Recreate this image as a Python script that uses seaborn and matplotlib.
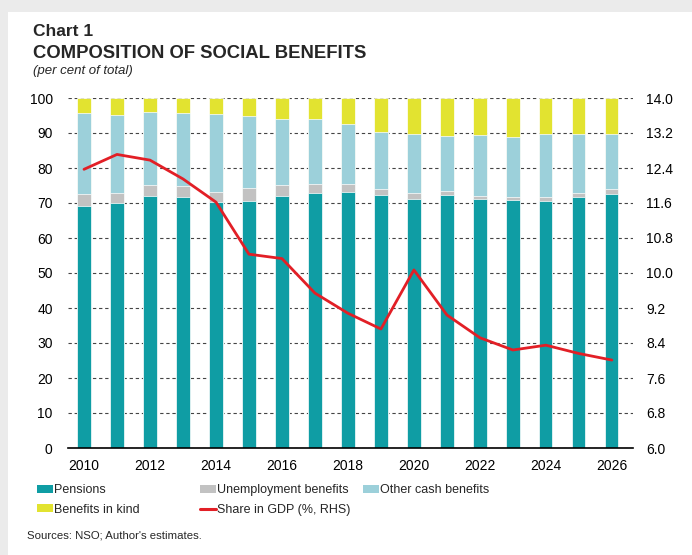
import numpy as np
import pandas as pd
import matplotlib
matplotlib.use("Agg")
import matplotlib.pyplot as plt
import seaborn as sns
from matplotlib.patches import Patch, Rectangle
from matplotlib.lines import Line2D
from matplotlib import font_manager as fm

years = list(range(2010, 2027))
pensions = [69.1, 69.9, 72.0, 71.6, 70.4, 70.7, 72.1, 73.0, 73.2, 72.3, 71.1, 72.4, 71.2, 70.9, 70.5, 71.8, 72.7]
unemployment = [3.4, 3.1, 3.1, 3.3, 2.8, 3.5, 3.0, 2.3, 2.1, 1.6, 1.8, 0.9, 0.8, 0.8, 1.1, 1.2, 1.3]
other_cash = [23.1, 22.2, 20.9, 20.9, 22.2, 20.7, 19.0, 18.6, 17.2, 16.3, 16.8, 15.9, 17.3, 17.3, 18.0, 16.6, 15.6]
in_kind = [4.4, 4.8, 4.0, 4.2, 4.6, 5.1, 5.9, 6.1, 7.5, 9.8, 10.3, 10.8, 10.7, 11.0, 10.4, 10.4, 10.4]
gdp_share = [12.37, 12.71, 12.58, 12.15, 11.62, 10.43, 10.33, 9.54, 9.08, 8.72, 10.07, 9.04, 8.52, 8.24, 8.35, 8.16, 8.01]

left_ticks = list(range(0, 101, 10))
right_ticks = [6.0, 6.8, 7.6, 8.4, 9.2, 10.0, 10.8, 11.6, 12.4, 13.2, 14.0]

labels = ["Pensions", "Unemployment benefits", "Other cash benefits", "Benefits in kind"]
colors = ["#0F9DA4", "#C2C2C2", "#9CD0DA", "#E2E330"]
red = "#E21F26"

sns.set_theme(style="white")
plt.rcParams["font.family"] = ["Liberation Sans", "DejaVu Sans"]

installed = {f.name for f in fm.fontManager.ttflist}
if "Liberation Sans Narrow" in installed:
    narrow = "Liberation Sans Narrow"
    leg_size, src_size = 10.5, 9.5
else:
    narrow = "Liberation Sans"
    leg_size, src_size = 9.0, 8.2

df = pd.DataFrame({"year": [str(y) for y in years],
                   "p": pensions, "u": unemployment, "o": other_cash, "k": in_kind})
df["c1"] = df["p"]
df["c2"] = df["c1"] + df["u"]
df["c3"] = df["c2"] + df["o"]
df["c4"] = df["c3"] + df["k"]

fig = plt.figure(figsize=(6.92, 5.55), dpi=100)
fig.patch.set_facecolor("#EBEBEB")
fig.patches.append(Rectangle((8 / 692, 0), 1, 1 - 12 / 555, transform=fig.transFigure,
                             facecolor="white", edgecolor="none", zorder=-10))

ax = fig.add_axes([68 / 692, 1 - 448 / 555, (633 - 68) / 692, 350 / 555])
ax.set_facecolor("none")

for col, c in zip(["c4", "c3", "c2", "c1"], colors[::-1]):
    sns.barplot(data=df, x="year", y=col, color=c, width=0.4, ax=ax,
                edgecolor="white", linewidth=0.5, saturation=1, zorder=2)

ax.set_ylim(0, 100)
ax.set_yticks(left_ticks)
ax.set_xlim(-0.485, 16.64)
ax.set_xticks(range(0, 17, 2))
ax.set_xticklabels([str(y) for y in years[::2]])
ax.set_xlabel("")
ax.set_ylabel("")
for s in ["top", "right", "left"]:
    ax.spines[s].set_visible(False)
ax.spines["bottom"].set_color("black")
ax.spines["bottom"].set_linewidth(1.2)
ax.spines["bottom"].set_zorder(5)
ax.set_axisbelow(True)
ax.yaxis.grid(True, color="#444444", linestyle=(0, (3, 2.5)), linewidth=0.8)
ax.tick_params(axis="both", length=0, labelsize=10, colors="black")
ax.tick_params(axis="y", pad=11)
ax.tick_params(axis="x", pad=8)

ax2 = ax.twinx()
sns.lineplot(x=np.arange(len(years)), y=gdp_share, ax=ax2, color=red, linewidth=2.0, zorder=6)
ax2.set_ylim(6.0, 14.0)
ax2.set_yticks(right_ticks)
ax2.set_yticklabels([f"{v:.1f}" for v in right_ticks])
ax2.set_xlim(-0.485, 16.64)
for s in ["top", "right", "left", "bottom"]:
    ax2.spines[s].set_visible(False)
ax2.tick_params(axis="y", length=0, labelsize=10, colors="black", pad=9.5)
ax2.set_ylabel("")

fig.text(33 / 692, 1 - 32 / 555, "Chart 1", fontsize=12.5, fontweight="bold", va="center", ha="left")
fig.text(33 / 692, 1 - 53 / 555, "COMPOSITION OF SOCIAL BENEFITS", fontsize=13.3, fontweight="bold",
         va="center", ha="left")
fig.text(33 / 692, 1 - 71 / 555, "(per cent of total)", fontsize=9.5, style="italic", va="center", ha="left")
fig.text(27 / 692, 1 - 535 / 555, "Sources: NSO; Author's estimates.", fontsize=src_size,
         family=narrow, va="center", ha="left")

h = [Patch(facecolor=c, edgecolor="none") for c in colors]
hl = Line2D([], [], color=red, linewidth=2.2)
kw = dict(frameon=False, prop={"family": narrow, "size": leg_size}, handlelength=1.25,
          handleheight=0.6, handletextpad=0.1,
          labelspacing=0.62, borderpad=0, borderaxespad=0, loc="upper left")
fig.legend([h[0], h[3]], [labels[0], labels[3]], bbox_to_anchor=(37 / 692, 1 - 484 / 555), **kw)
fig.legend([h[1], hl], [labels[1], "Share in GDP (%, RHS)"], bbox_to_anchor=(200 / 692, 1 - 484 / 555), **kw)
fig.legend([h[2]], [labels[2]], bbox_to_anchor=(363 / 692, 1 - 484 / 555), **kw)

fig.savefig("out.png", dpi=100, facecolor=fig.get_facecolor())
